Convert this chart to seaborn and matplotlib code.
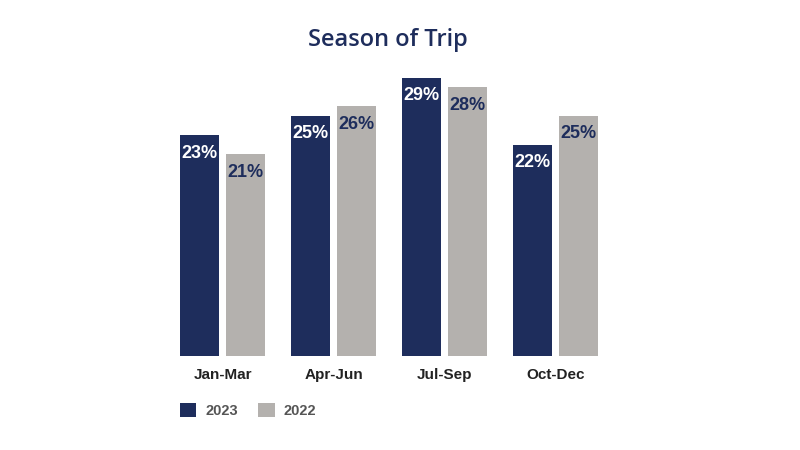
import matplotlib
matplotlib.use("Agg")
import matplotlib.pyplot as plt
import pandas as pd
import seaborn as sns

# data
seasons = ["Jan-Mar", "Apr-Jun", "Jul-Sep", "Oct-Dec"]
years = ["2023", "2022"]
share_2023 = [23, 25, 29, 22]
share_2022 = [21, 26, 28, 25]

navy = "#1e2d5c"
grey = "#b4b1ae"
narrow = ["Liberation Sans", "DejaVu Sans"]

df = pd.DataFrame({
    "season": seasons * 2,
    "year": [years[0]] * 4 + [years[1]] * 4,
    "share": share_2023 + share_2022,
})

sns.set_style("white")
fig = plt.figure(figsize=(8, 4.5), dpi=100)
ax = fig.add_axes([0.209, 0.209, 0.555, 0.64])

sns.barplot(data=df, x="season", y="share", hue="year", hue_order=years,
            palette=[navy, grey], width=0.83, gap=0.15, saturation=1,
            linewidth=0, ax=ax, legend=True)

# value labels inside the top of each bar
for cont, col in zip(ax.containers, ["white", navy]):
    labels = [f"{v:.0f}%" for v in cont.datavalues]
    ax.bar_label(cont, labels=labels, label_type="edge", padding=-19,
                 color=col, fontsize=13, fontweight="bold", family=narrow)

ax.set_xlim(-0.5, 3.5)
ax.set_ylim(0, 30)
ax.set_xlabel("")
ax.set_ylabel("")
ax.set_yticks([])
ax.tick_params(axis="x", length=0, pad=9)
for lab in ax.get_xticklabels():
    lab.set_fontsize(11)
    lab.set_fontweight("bold")
    lab.set_family(narrow)
    lab.set_color("#222222")
sns.despine(ax=ax, left=True, bottom=True)

handles, labs = ax.get_legend_handles_labels()
ax.legend(handles, labs, loc="center left", bbox_to_anchor=(0.208, 0.088),
          bbox_transform=fig.transFigure, ncol=2, frameon=False,
          handlelength=1.16, handleheight=1.16, handletextpad=0.6,
          columnspacing=1.37, prop={"family": narrow, "weight": "bold", "size": 10.5},
          labelcolor="#555555")

fig.text(0.485, 0.912, "Season of Trip", ha="center", va="center",
         fontsize=17, fontweight="semibold", color=navy,
         family=["Open Sans", "DejaVu Sans"])

fig.savefig("out.png", dpi=100, facecolor="white")
